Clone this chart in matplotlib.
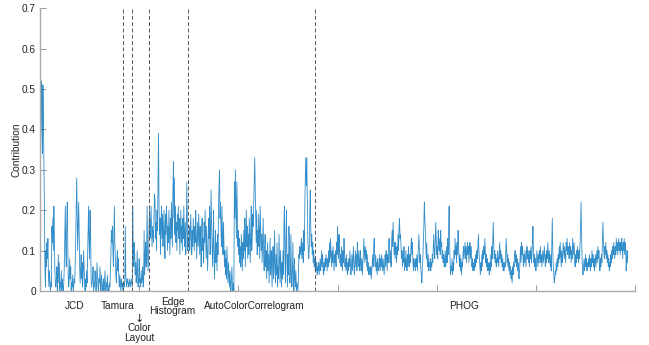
import numpy as np
import matplotlib
matplotlib.use('Agg')
import matplotlib.pyplot as plt

plt.rcParams['font.family'] = ['Liberation Sans', 'DejaVu Sans']

# contribution per feature dimension
jcd = [0.31, 0.40, 0.52, 0.45, 0.34, 0.51, 0.42, 0.30, 0.21, 0.05, 0.01,
       0.10, 0.06, 0.12, 0.08, 0.13, 0.04, 0.01, 0.05, 0.03, 0.00, 0.02, 0.01,
       0.16, 0.12, 0.18, 0.10, 0.21, 0.14, 0.05, 0.02, 0.01, 0.03,
       0.06, 0.00, 0.04, 0.09, 0.02, 0.07, 0.00, 0.02, 0.01, 0.05, 0.00, 0.03, 0.01, 0.00, 0.02, 0.06,
       0.14, 0.21, 0.10, 0.06, 0.17, 0.22, 0.12, 0.03, 0.01, 0.04,
       0.08, 0.03, 0.06, 0.00, 0.02, 0.01, 0.04, 0.00, 0.01, 0.03, 0.02, 0.07, 0.12, 0.20,
       0.28, 0.18, 0.10, 0.16, 0.22, 0.15, 0.06, 0.02,
       0.05, 0.09, 0.03, 0.07, 0.01, 0.04, 0.10, 0.06, 0.02, 0.00, 0.03, 0.01, 0.05, 0.02, 0.08,
       0.14, 0.21, 0.12, 0.08, 0.20, 0.15, 0.04, 0.01, 0.02,
       0.03, 0.06, 0.00, 0.02, 0.01, 0.05, 0.03, 0.00, 0.02, 0.07, 0.04, 0.01, 0.00, 0.03, 0.02, 0.06,
       0.01, 0.00, 0.04, 0.02, 0.00, 0.01, 0.03, 0.00, 0.02, 0.05, 0.01, 0.00, 0.02, 0.01, 0.04, 0.00,
       0.01, 0.00, 0.02, 0.01,
       0.05, 0.09, 0.15, 0.12, 0.16, 0.10, 0.06, 0.14, 0.21, 0.12, 0.08, 0.04, 0.02, 0.07, 0.10, 0.05,
       0.08, 0.03, 0.01, 0.04, 0.02, 0.00, 0.03, 0.01, 0.02, 0.00, 0.01]

tamura = [0.02, 0.01, 0.03, 0.16, 0.04, 0.02, 0.01, 0.03, 0.02, 0.02, 0.01, 0.03,
          0.02, 0.01, 0.02, 0.03, 0.02, 0.01]

color_layout = [0.21, 0.10, 0.06, 0.12, 0.09, 0.04, 0.07, 0.02, 0.05, 0.10, 0.03,
                0.01, 0.04, 0.08, 0.02, 0.03, 0.01, 0.05, 0.02, 0.03, 0.06, 0.01,
                0.02, 0.15, 0.04, 0.09, 0.12, 0.06, 0.10, 0.21, 0.08, 0.05, 0.09]

edge_hist = [0.17, 0.20, 0.13, 0.16, 0.21, 0.15, 0.11,
             0.16, 0.14, 0.12, 0.19, 0.24, 0.22, 0.13, 0.17,
             0.10, 0.20, 0.15, 0.27, 0.39, 0.22, 0.14, 0.18,
             0.09, 0.16, 0.21, 0.13, 0.19, 0.11, 0.15, 0.20,
             0.13, 0.08, 0.19, 0.14, 0.21, 0.17, 0.10, 0.16,
             0.12, 0.20, 0.15, 0.09, 0.18, 0.13, 0.22, 0.16,
             0.11, 0.24, 0.32, 0.18, 0.28, 0.14, 0.21, 0.12,
             0.17, 0.10, 0.19, 0.15, 0.21, 0.13, 0.18, 0.09,
             0.14, 0.20, 0.12, 0.16, 0.10, 0.18, 0.13, 0.21,
             0.15, 0.11, 0.17, 0.09, 0.14, 0.27, 0.18, 0.10, 0.13]

acc = [0.12, 0.16, 0.10, 0.14, 0.19, 0.13, 0.09, 0.15, 0.11, 0.18,
       0.14, 0.10, 0.16, 0.12, 0.20, 0.15, 0.08, 0.13, 0.17, 0.11,
       0.19, 0.14, 0.09, 0.16, 0.12, 0.06, 0.15, 0.18, 0.10, 0.13,
       0.07, 0.17, 0.12, 0.20, 0.14, 0.08, 0.16, 0.11, 0.05, 0.10,
       0.18, 0.13, 0.21, 0.09, 0.14, 0.25, 0.17, 0.11, 0.06, 0.12,
       0.20, 0.08, 0.03, 0.10, 0.15, 0.07, 0.12, 0.05, 0.14, 0.09,
       0.21, 0.26, 0.30, 0.18, 0.22, 0.15, 0.11, 0.21, 0.14, 0.09,
       0.17, 0.12, 0.06, 0.10, 0.04, 0.08, 0.03, 0.11, 0.06, 0.02,
       0.07, 0.04, 0.01, 0.05, 0.02, 0.00, 0.03, 0.06, 0.01, 0.00,
       0.02, 0.00, 0.27, 0.18, 0.30, 0.22, 0.13, 0.27, 0.19, 0.11,
       0.15, 0.09, 0.13, 0.07, 0.11, 0.06, 0.14, 0.09, 0.05, 0.12,
       0.08, 0.15, 0.10, 0.18, 0.06, 0.13, 0.20, 0.11, 0.16, 0.08,
       0.14, 0.09, 0.18, 0.12, 0.07, 0.15, 0.21, 0.10, 0.13, 0.19,
       0.16, 0.22, 0.28, 0.33, 0.25, 0.18, 0.12, 0.20, 0.09, 0.15,
       0.11, 0.19, 0.13, 0.08, 0.21, 0.16, 0.10, 0.14, 0.07, 0.12,
       0.18, 0.09, 0.05, 0.11, 0.14, 0.06, 0.10, 0.03, 0.08, 0.12,
       0.05, 0.09, 0.02, 0.07, 0.13, 0.04, 0.10, 0.06, 0.01, 0.08,
       0.11, 0.03, 0.07, 0.15, 0.05, 0.02, 0.09, 0.04, 0.12, 0.01,
       0.06, 0.03, 0.14, 0.08, 0.02, 0.10, 0.05, 0.01, 0.07, 0.03,
       0.10, 0.04, 0.17, 0.21, 0.08, 0.02, 0.13, 0.20, 0.07, 0.01,
       0.09, 0.04, 0.16, 0.11, 0.02, 0.06, 0.14, 0.03, 0.01, 0.05,
       0.12, 0.02, 0.00, 0.08, 0.03, 0.01, 0.05, 0.00, 0.02, 0.01,
       0.00, 0.03, 0.09, 0.08, 0.11, 0.09, 0.10, 0.13, 0.08, 0.12,
       0.09, 0.07, 0.15, 0.10, 0.21, 0.28, 0.33, 0.26, 0.33, 0.22,
       0.13, 0.10, 0.08, 0.11, 0.19, 0.25, 0.16, 0.11, 0.14, 0.09,
       0.12, 0.07, 0.10, 0.06, 0.08, 0.05]

phog = [0.08, 0.05, 0.07, 0.04, 0.06, 0.05, 0.07, 0.04, 0.06, 0.08,
        0.05, 0.07, 0.10, 0.06, 0.09, 0.05, 0.04, 0.07, 0.05, 0.08,
        0.06, 0.09, 0.07, 0.05, 0.08, 0.06, 0.10, 0.07, 0.12, 0.08,
        0.13, 0.09, 0.06, 0.10, 0.07, 0.11, 0.08, 0.05, 0.09, 0.07,
        0.10, 0.06, 0.12, 0.09, 0.16, 0.11, 0.08, 0.14, 0.10, 0.07,
        0.09, 0.06, 0.11, 0.08, 0.05, 0.10, 0.07, 0.13, 0.09, 0.06,
        0.08, 0.05, 0.09, 0.06, 0.04, 0.07, 0.05, 0.08, 0.06, 0.10,
        0.07, 0.04, 0.06, 0.09, 0.05, 0.08, 0.11, 0.06, 0.04, 0.07,
        0.10, 0.06, 0.09, 0.05, 0.12, 0.08, 0.06, 0.10, 0.07, 0.05,
        0.10, 0.07, 0.05, 0.08, 0.04, 0.07, 0.09, 0.13, 0.10, 0.07,
        0.11, 0.08, 0.10, 0.06, 0.09, 0.05, 0.07, 0.04, 0.06, 0.05,
        0.04, 0.06, 0.03, 0.05, 0.07, 0.09, 0.06, 0.11, 0.13, 0.08,
        0.06, 0.09, 0.05, 0.07, 0.04, 0.08, 0.06, 0.05, 0.07, 0.09,
        0.05, 0.08, 0.06, 0.09, 0.07, 0.05, 0.08, 0.06, 0.04, 0.07,
        0.09, 0.06, 0.10, 0.08, 0.05, 0.09, 0.07, 0.11, 0.13, 0.09,
        0.07, 0.10, 0.06, 0.12, 0.15, 0.11, 0.17, 0.13, 0.09, 0.12,
        0.08, 0.12, 0.10, 0.07, 0.11, 0.09, 0.14, 0.10, 0.16, 0.18,
        0.13, 0.14, 0.11, 0.08, 0.10, 0.06, 0.09, 0.07, 0.11, 0.05,
        0.08, 0.06, 0.10, 0.07, 0.05, 0.09, 0.06, 0.11, 0.08, 0.06,
        0.09, 0.07, 0.11, 0.13, 0.09, 0.12, 0.07, 0.05, 0.08, 0.06,
        0.07, 0.05, 0.08, 0.06, 0.09, 0.05, 0.08, 0.11, 0.14, 0.10,
        0.07, 0.09, 0.05, 0.04, 0.02, 0.06, 0.08, 0.12, 0.16, 0.22,
        0.18, 0.15, 0.11, 0.08, 0.12, 0.07, 0.06, 0.09, 0.05, 0.07,
        0.06, 0.08, 0.05, 0.07, 0.06, 0.09, 0.07, 0.11, 0.14, 0.10,
        0.08, 0.12, 0.17, 0.13, 0.09, 0.11, 0.08, 0.15, 0.12, 0.10,
        0.13, 0.09, 0.15, 0.11, 0.12, 0.08, 0.10, 0.07, 0.09, 0.06,
        0.07, 0.10, 0.06, 0.08, 0.11, 0.07, 0.13, 0.09, 0.16, 0.21,
        0.12, 0.07, 0.04, 0.06, 0.05, 0.08, 0.04, 0.07, 0.05, 0.10,
        0.08, 0.13, 0.09, 0.11, 0.07, 0.12, 0.09, 0.15, 0.11, 0.08,
        0.06, 0.09, 0.05, 0.08, 0.04, 0.07, 0.06, 0.09, 0.11, 0.08,
        0.10, 0.12, 0.08, 0.11, 0.07, 0.10, 0.12, 0.09, 0.11, 0.07,
        0.10, 0.12, 0.08, 0.11, 0.09, 0.06, 0.08, 0.05, 0.07, 0.06,
        0.05, 0.08, 0.06, 0.09, 0.07, 0.10, 0.08, 0.11, 0.14, 0.10,
        0.08, 0.06, 0.04, 0.07, 0.05, 0.09, 0.06, 0.10, 0.08, 0.11,
        0.09, 0.13, 0.10, 0.07, 0.09, 0.06, 0.08, 0.05, 0.07, 0.06,
        0.04, 0.07, 0.05, 0.09, 0.06, 0.11, 0.08, 0.13, 0.17, 0.11,
        0.08, 0.10, 0.07, 0.09, 0.06, 0.08, 0.07, 0.10, 0.08, 0.06,
        0.09, 0.12, 0.08, 0.10, 0.07, 0.09, 0.06, 0.08, 0.05, 0.07,
        0.05, 0.07, 0.06, 0.09, 0.13, 0.10, 0.07, 0.09, 0.06, 0.08,
        0.05, 0.07, 0.04, 0.06, 0.03, 0.05, 0.02, 0.06, 0.04, 0.07,
        0.06, 0.09, 0.10, 0.07, 0.09, 0.06, 0.08, 0.05, 0.07, 0.04,
        0.03, 0.05, 0.08, 0.11, 0.07, 0.12, 0.09, 0.11, 0.08, 0.06,
        0.09, 0.07, 0.10, 0.08, 0.06, 0.09, 0.11, 0.08, 0.10, 0.07,
        0.09, 0.06, 0.10, 0.08, 0.11, 0.07, 0.09, 0.12, 0.16, 0.10,
        0.07, 0.09, 0.06, 0.08, 0.05, 0.07, 0.10, 0.08, 0.06, 0.09,
        0.07, 0.10, 0.08, 0.11, 0.07, 0.09, 0.06, 0.08, 0.10, 0.07,
        0.09, 0.11, 0.08, 0.06, 0.09, 0.07, 0.10, 0.08, 0.12, 0.09,
        0.07, 0.10, 0.08, 0.06, 0.09, 0.05, 0.12, 0.18, 0.10, 0.06,
        0.04, 0.02, 0.03, 0.05, 0.04, 0.07, 0.05, 0.08, 0.06, 0.09,
        0.07, 0.11, 0.08, 0.12, 0.09, 0.06, 0.10, 0.07, 0.09, 0.12,
        0.10, 0.08, 0.11, 0.09, 0.07, 0.12, 0.10, 0.13, 0.09, 0.11,
        0.10, 0.08, 0.12, 0.09, 0.11, 0.07, 0.10, 0.08, 0.13, 0.11,
        0.09, 0.12, 0.08, 0.06, 0.09, 0.07, 0.10, 0.08, 0.11, 0.09,
        0.07, 0.10, 0.08, 0.12, 0.16, 0.22, 0.14, 0.08, 0.05, 0.04,
        0.06, 0.08, 0.05, 0.07, 0.09, 0.06, 0.08, 0.05, 0.07, 0.06,
        0.08, 0.06, 0.09, 0.07, 0.05, 0.08, 0.06, 0.10, 0.07, 0.09,
        0.06, 0.08, 0.05, 0.07, 0.09, 0.06, 0.08, 0.10, 0.07, 0.11,
        0.08, 0.10, 0.07, 0.05, 0.08, 0.06, 0.09, 0.07, 0.12, 0.17,
        0.13, 0.10, 0.08, 0.11, 0.09, 0.12, 0.08, 0.10, 0.07, 0.09,
        0.06, 0.08, 0.05, 0.07, 0.06, 0.09, 0.07, 0.10, 0.08, 0.11,
        0.09, 0.12, 0.10, 0.08, 0.11, 0.09, 0.13, 0.10, 0.12, 0.09,
        0.11, 0.13, 0.10, 0.12, 0.09, 0.12, 0.10, 0.13, 0.11, 0.08,
        0.12, 0.10, 0.13, 0.09, 0.12, 0.11, 0.05, 0.08, 0.10, 0.07]

groups = [jcd, tamura, color_layout, edge_hist, acc, phog]

values = np.concatenate(groups)
idx = np.arange(1, len(values) + 1)
bounds = np.cumsum([len(g) for g in groups])[:-1]

fig = plt.figure(figsize=(6.49, 3.45), dpi=100)
ax = fig.add_axes([0.0616, 0.1565, 0.917, 0.82])

ax.plot(idx, values, color='#0072BD', lw=0.6, alpha=0.8)
for b in bounds:
    ax.axvline(b, color='#555555', ls=(0, (4, 2.5)), lw=0.7)

ax.set_xlim(0, 1200)
ax.set_ylim(0, 0.7)
ax.set_xticks(np.arange(0, 1201, 200))
ax.set_xticklabels([])
yt = np.arange(0, 0.71, 0.1)
ax.set_yticks(yt)
ax.set_yticklabels(['0'] + ['%.1f' % v for v in yt[1:]])
ax.tick_params(direction='in', length=4, width=0.6, color='#888888',
               labelsize=7.3, labelcolor='#222222', pad=3)
for s in ['top', 'right']:
    ax.spines[s].set_visible(False)
for s in ['left', 'bottom']:
    ax.spines[s].set_color('#aaaaaa')
    ax.spines[s].set_linewidth(1.0)
ax.set_ylabel('Contribution', fontsize=7.3, color='#222222', labelpad=0)

W, H = 649.0, 345.0
def lab(x, y, s, size=7.3, family=None):
    fig.text(x / W, 1 - y / H, s, ha='center', va='center', fontsize=size,
             color='#222222', family=family)

lab(74.5, 306, 'JCD')
lab(118, 306, 'Tamura')
lab(139.5, 318.5, '\u2193', size=8, family='DejaVu Sans')
lab(139, 328, 'Color')
lab(139, 338, 'Layout')
lab(172.5, 302, 'Edge')
lab(172.5, 311.5, 'Histogram')
lab(254.5, 306, 'AutoColorCorrelogram')
lab(464, 306, 'PHOG')

fig.savefig('out.png', dpi=100)
